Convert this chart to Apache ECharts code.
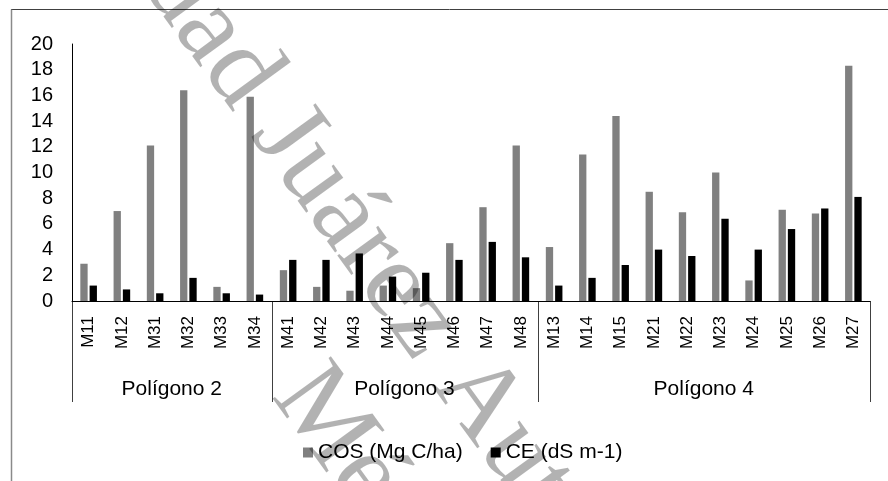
<!DOCTYPE html>
<html>
<head>
<meta charset="utf-8">
<script src="https://cdn.jsdelivr.net/npm/echarts@6/dist/echarts.min.js"></script>
<style>
html,body{margin:0;padding:0;background:#fff;}
#chart{width:888px;height:481px;}
</style>
</head>
<body>
<div id="chart"></div>
<script>
const categories = ['M11','M12','M31','M32','M33','M34','M41','M42','M43','M44','M45','M46','M47','M48','M13','M14','M15','M21','M22','M23','M24','M25','M26','M27'];
const cosValues = [2.9, 7.0, 12.1, 16.4, 1.1, 15.9, 2.4, 1.1, 0.8, 1.2, 1.0, 4.5, 7.3, 12.1, 4.2, 11.4, 14.4, 8.5, 6.9, 10.0, 1.6, 7.1, 6.8, 18.3];
const ceValues = [1.2, 0.9, 0.6, 1.8, 0.6, 0.5, 3.2, 3.2, 3.7, 1.9, 2.2, 3.2, 4.6, 3.4, 1.2, 1.8, 2.8, 4.0, 3.5, 6.4, 4.0, 5.6, 7.2, 8.1];
const groupNames = ['Polígono 2', 'Polígono 3', 'Polígono 4'];
const groupSizes = [6, 8, 10];
const seriesNames = ['COS (Mg C/ha)', 'CE (dS m-1)'];
const yMin = 0, yMax = 20, yStep = 2;
const watermarkLines = ['Universidad Juárez Autónoma de Tabasco', 'México'];

const FONT = "'Liberation Sans', Arial, sans-serif";
const chart = echarts.init(document.getElementById('chart'), null, {renderer: 'canvas'});

chart.setOption({
  animation: false,
  backgroundColor: '#ffffff',
  grid: {left: 72, right: 18, top: 44, bottom: 180, containLabel: false},
  legend: {
    data: seriesNames,
    left: 298,
    top: 437,
    icon: 'rect',
    itemWidth: 10,
    itemHeight: 10,
    itemGap: 28,
    textStyle: {fontFamily: FONT, fontSize: 21, color: '#000'}
  },
  xAxis: {
    type: 'category',
    data: categories,
    axisLine: {show: true, lineStyle: {color: '#000', width: 1}},
    axisTick: {show: false},
    axisLabel: {interval: 0, rotate: 90, margin: 15, fontFamily: FONT, fontSize: 17, color: '#000'}
  },
  yAxis: {
    type: 'value',
    min: yMin, max: yMax, interval: yStep,
    axisLine: {show: true, lineStyle: {color: '#000', width: 1}},
    axisTick: {show: false},
    splitLine: {show: false},
    axisLabel: {margin: 19, fontFamily: FONT, fontSize: 20, color: '#000'}
  },
  series: [
    {name: seriesNames[0], type: 'bar', data: cosValues, barWidth: '22%', barGap: '27%', itemStyle: {color: '#808080'}},
    {name: seriesNames[1], type: 'bar', data: ceValues, barWidth: '22%', barGap: '27%', itemStyle: {color: '#000000'}}
  ]
});

// group separators and labels built from the category axis scale
const c0 = chart.convertToPixel({xAxisIndex: 0}, 0);
const c1 = chart.convertToPixel({xAxisIndex: 0}, 1);
const band = c1 - c0;
const y0 = chart.convertToPixel({yAxisIndex: 0}, 0);
const boundary = i => c0 - band / 2 + i * band;
const els = [];
// outer frame (top & left visible)
els.push({type: 'line', shape: {x1: 11, y1: 9.5, x2: 888, y2: 9.5}, style: {stroke: '#404040', lineWidth: 1}});
els.push({type: 'line', shape: {x1: 11.5, y1: 9.5, x2: 11.5, y2: 481}, style: {stroke: '#8a8a8a', lineWidth: 1.5}});
let start = 0;
const bounds = [0];
groupSizes.forEach(s => { start += s; bounds.push(start); });
bounds.forEach(b => {
  const x = Math.round(boundary(b)) + 0.5;
  els.push({type: 'line', shape: {x1: x, y1: y0, x2: x, y2: y0 + 101}, style: {stroke: '#404040', lineWidth: 1}});
});
groupNames.forEach((g, i) => {
  const cx = (boundary(bounds[i]) + boundary(bounds[i + 1])) / 2;
  els.push({type: 'text', x: cx, y: y0 + 88, style: {text: g, font: "21px 'Liberation Sans', Arial, sans-serif", fill: '#000', textAlign: 'center', textVerticalAlign: 'middle', align: 'center', verticalAlign: 'middle'}});
});
// watermark
const ang = -54 * Math.PI / 180;
els.push({type: 'text', x: -59, y: -339, rotation: ang, z: 100, silent: true,
  style: {text: watermarkLines[0], font: "110px 'Liberation Serif', 'Times New Roman', serif", fill: 'rgba(0,0,0,0.3)', textAlign: 'left', textVerticalAlign: 'middle', align: 'left', verticalAlign: 'middle'}});
els.push({type: 'text', x: 294, y: 379, rotation: ang, z: 100, silent: true,
  style: {text: watermarkLines[1], font: "110px 'Liberation Serif', 'Times New Roman', serif", fill: 'rgba(0,0,0,0.3)', textAlign: 'left', textVerticalAlign: 'middle', align: 'left', verticalAlign: 'middle'}});
chart.setOption({graphic: {elements: els}});
</script>
</body>
</html>
